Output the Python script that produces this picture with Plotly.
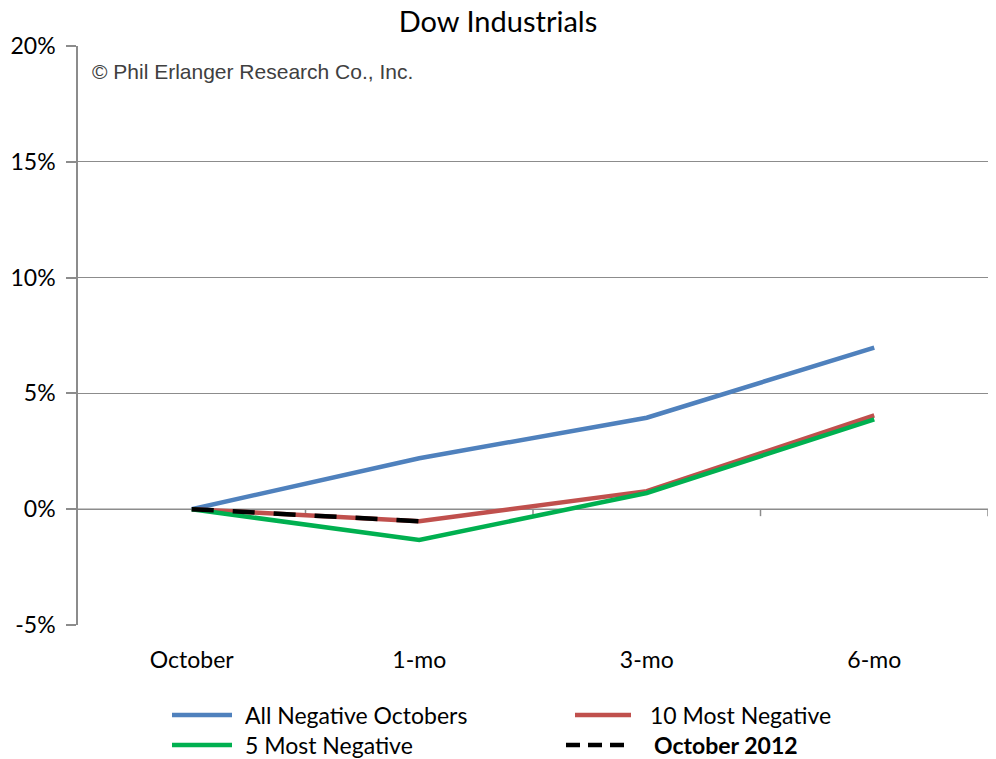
import plotly.graph_objects as go

# Horizons after a negative October and average Dow performance (%)
periods = ["October", "1-mo", "3-mo", "6-mo"]
all_negative = [0.0, 2.2, 3.95, 6.98]
ten_most_negative = [0.0, -0.52, 0.78, 4.05]
five_most_negative = [0.0, -1.33, 0.7, 3.88]
october_2012_periods = ["October", "1-mo"]
october_2012 = [0.0, -0.52]

y_ticks = [-5, 0, 5, 10, 15, 20]
y_tick_text = ["-5%", "0%", "5%", "10%", "15%", "20%"]

FONT = "Lato, Open Sans, sans-serif"
GRID = "#8c8c8c"

W, H = 996, 759
ML, MR, MT, MB = 78, 8, 46, 134
PW, PH = W - ML - MR, H - MT - MB


def px_x(px):
    return (px - ML) / PW


def px_y(py):
    return (H - MB - py) / PH


series = [
    ("All Negative Octobers", periods, all_negative, dict(color="#4F81BD", width=4.5)),
    ("10 Most Negative", periods, ten_most_negative, dict(color="#C0504D", width=4.5)),
    ("5 Most Negative", periods, five_most_negative, dict(color="#00B050", width=4.5)),
    ("October 2012", october_2012_periods, october_2012,
     dict(color="black", width=4.5, dash="22px,19px")),
]

fig = go.Figure()
for name, xs, ys, line in series:
    fig.add_trace(go.Scatter(x=xs, y=ys, name=name, mode="lines", line=line,
                             showlegend=False))

# category axis line across 0% with tick marks at the category boundaries
fig.add_shape(type="line", xref="x", yref="y", x0=-0.5, x1=3.5, y0=0, y1=0,
              line=dict(color=GRID, width=1.5), layer="below")
for b in [0.5, 1.5, 2.5, 3.5]:
    fig.add_shape(type="line", xref="x", yref="y", x0=b, x1=b, y0=0, y1=-0.3,
                  line=dict(color=GRID, width=1.5), layer="below")

# two-column legend under the axis
legend_slots = [
    (172, 232, 243, 715, False),
    (575, 631, 648, 715, False),
    (172, 232, 243, 745, False),
    (566, 626, 652, 745, True),
]
for (name, _, _, line), (lx0, lx1, tx, ly, bold) in zip(series, legend_slots):
    sample = dict(line)
    if "dash" in sample:
        sample["dash"] = "14px,8px"
    fig.add_shape(type="line", xref="paper", yref="paper",
                  x0=px_x(lx0), x1=px_x(lx1), y0=px_y(ly), y1=px_y(ly),
                  line=sample)
    fig.add_annotation(text=f"<b>{name}</b>" if bold else name,
                       xref="paper", yref="paper", x=px_x(tx), y=px_y(ly),
                       xanchor="left", yanchor="middle", showarrow=False,
                       font=dict(family=FONT, size=23, color="black"))

fig.add_annotation(text="© Phil Erlanger Research Co., Inc.", xref="paper", yref="paper",
                   x=px_x(90), y=px_y(71), xanchor="left", yanchor="middle", showarrow=False,
                   font=dict(family="Liberation Sans, Arial, sans-serif", size=21,
                             color="#404040"))

fig.update_layout(
    width=W, height=H,
    margin=dict(l=ML, r=MR, t=MT, b=MB),
    paper_bgcolor="white", plot_bgcolor="white",
    title=dict(text="Dow Industrials", x=0.5, xanchor="center", y=1 - 22 / H,
               yanchor="middle", font=dict(family=FONT, size=29, color="black")),
    font=dict(family=FONT, color="black"),
    xaxis=dict(type="category", range=[-0.5, 3.5], showgrid=False, showline=False,
               ticks="", tickfont=dict(size=23, color="black"), ticklabelstandoff=19,
               zeroline=False),
    yaxis=dict(range=[-5, 20], tickvals=y_ticks, ticktext=y_tick_text,
               showgrid=True, gridcolor=GRID, gridwidth=1.2,
               showline=True, linecolor=GRID, linewidth=1.5,
               ticks="outside", ticklen=10, tickcolor=GRID, tickwidth=1.5,
               tickfont=dict(size=23, color="black"), ticklabelstandoff=6,
               zeroline=False),
    showlegend=False,
)

fig.write_html("out.html")
